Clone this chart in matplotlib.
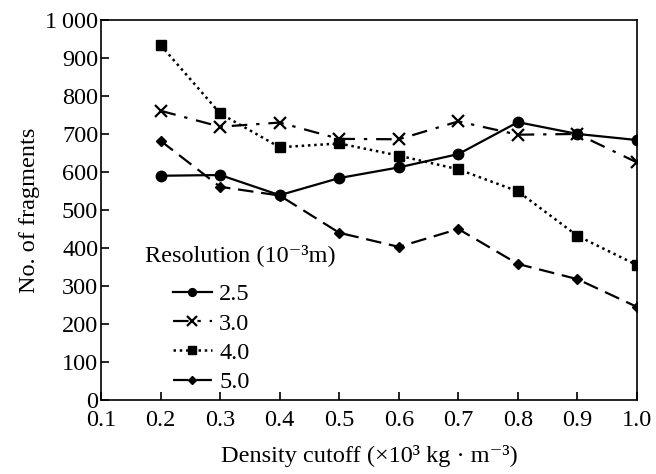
import matplotlib.pyplot as plt
from matplotlib.ticker import FuncFormatter

plt.rcParams['font.family'] = ['Liberation Serif', 'DejaVu Serif']

# density cutoff values and fragment counts per resolution
density = [0.2, 0.3, 0.4, 0.5, 0.6, 0.7, 0.8, 0.9, 1.0]
res_labels = ['2.5', '3.0', '4.0', '5.0']
frag_25 = [590, 592, 539, 584, 612, 647, 731, 700, 684]
frag_30 = [761, 719, 730, 687, 686, 733, 698, 700, 625]
frag_40 = [934, 754, 665, 675, 643, 607, 549, 432, 355]
frag_50 = [682, 561, 538, 440, 403, 450, 358, 318, 245]

fs = 17.5

fig = plt.figure(figsize=(6.56, 4.74), dpi=100)
ax = fig.add_axes([0.154, 0.156, 0.817, 0.802])

ax.plot(density, frag_25, color='black', lw=1.6, ls='-', marker='o', ms=7.5, label=res_labels[0])
ax.plot(density, frag_30, color='black', lw=1.6, ls=(0, (7, 4, 1.5, 4)), marker='x', ms=9, mew=1.6, label=res_labels[1])
ax.plot(density, frag_40, color='black', lw=1.8, ls=(0, (1, 1.5)), marker='s', ms=7.5, label=res_labels[2])
ax.plot(density, frag_50, color='black', lw=1.6, ls=(0, (7, 3.5)), marker='D', ms=5.5, label=res_labels[3])

ax.set_xlim(0.1, 1.0)
ax.set_ylim(0, 1000)
ax.set_xticks([0.1, 0.2, 0.3, 0.4, 0.5, 0.6, 0.7, 0.8, 0.9, 1.0])
ax.set_yticks(range(0, 1001, 100))
ax.xaxis.set_major_formatter(FuncFormatter(lambda v, p: f'{v:.1f}'))
ax.yaxis.set_major_formatter(FuncFormatter(lambda v, p: '1\u2009000' if v == 1000 else f'{int(v)}'))
ax.tick_params(direction='in', length=6, width=1.2, labelsize=fs)
ax.tick_params(axis='x', pad=7)
ax.tick_params(axis='y', pad=2)
for s in ax.spines.values():
    s.set_linewidth(1.2)

ax.set_xlabel('Density cutoff (×10³ kg · m⁻³)', fontsize=fs, labelpad=10)
ax.set_ylabel('No. of fragments', fontsize=fs, labelpad=4)

ax.text(0.082, 0.382, 'Resolution (10⁻³m)', transform=ax.transAxes, fontsize=fs,
        va='center', ha='left')
ax.legend(loc='upper left', bbox_to_anchor=(0.134, 0.307), frameon=False, fontsize=fs,
          handlelength=1.6, handletextpad=0.3, labelspacing=0.3, numpoints=1,
          borderpad=0, borderaxespad=0, markerscale=0.75)

fig.savefig('out.png', dpi=100)
